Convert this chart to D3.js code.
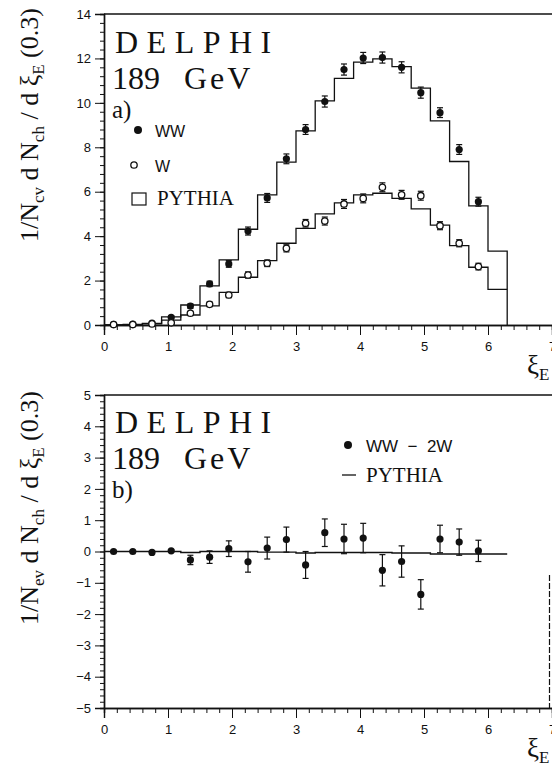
<!DOCTYPE html>
<html>
<head>
<meta charset="utf-8">
<script src="https://cdn.jsdelivr.net/npm/d3@7"></script>
<style>
  body { margin: 0; background: #fff; }
  svg { display: block; }
  .tick text { font-family: "Liberation Sans", Arial, sans-serif; font-size: 13px; fill: #111; }
  .domain, .tick line { stroke: #111; }
  .serif { font-family: "Liberation Serif", "Times New Roman", serif; fill: #111; }
  .sans { font-family: "Liberation Sans", Arial, sans-serif; fill: #111; }
</style>
</head>
<body>
<div id="chart"></div>
<script>
// datos (xi_E, bins de 0.3)
const xiCenters = [0.15, 0.45, 0.75, 1.05, 1.35, 1.65, 1.95, 2.25, 2.55, 2.85, 3.15, 3.45, 3.75, 4.05, 4.35, 4.65, 4.95, 5.25, 5.55, 5.85]
const binEdges = [0, 0.3, 0.6, 0.9, 1.2, 1.5, 1.8, 2.1, 2.4, 2.7, 3.0, 3.3, 3.6, 3.9, 4.2, 4.5, 4.8, 5.1, 5.4, 5.7, 6.0, 6.3]

// panel a)
const wwValues = [0.03, 0.04, 0.08, 0.35, 0.85, 1.85, 2.75, 4.23, 5.72, 7.48, 8.8, 10.06, 11.5, 12.02, 12.04, 11.6, 10.46, 9.56, 7.9, 5.55]
const wwErrors = [0.04, 0.04, 0.05, 0.07, 0.1, 0.12, 0.15, 0.18, 0.2, 0.22, 0.22, 0.25, 0.25, 0.25, 0.25, 0.25, 0.25, 0.22, 0.22, 0.2]
const wValues = [0.02, 0.02, 0.05, 0.1, 0.53, 0.93, 1.35, 2.25, 2.78, 3.45, 4.58, 4.68, 5.45, 5.7, 6.2, 5.86, 5.82, 4.47, 3.68, 2.63]
const wErrors = [0.03, 0.03, 0.04, 0.05, 0.08, 0.1, 0.12, 0.14, 0.15, 0.16, 0.17, 0.18, 0.2, 0.2, 0.2, 0.2, 0.2, 0.18, 0.16, 0.15]
const pythiaWW = [0.0, 0.03, 0.07, 0.37, 0.9, 1.76, 2.93, 4.31, 5.86, 7.33, 8.74, 10.09, 11.1, 11.83, 11.98, 11.63, 10.66, 9.19, 7.36, 5.36, 3.33]
const pythiaW = [0.0, 0.02, 0.05, 0.22, 0.45, 0.86, 1.47, 2.15, 2.9, 3.68, 4.35, 5.0, 5.5, 5.86, 5.93, 5.7, 5.23, 4.5, 3.57, 2.6, 1.6]

// panel b)
const diffValues = [0, 0, -0.03, 0.02, -0.27, -0.18, 0.09, -0.33, 0.11, 0.38, -0.43, 0.6, 0.4, 0.43, -0.6, -0.32, -1.37, 0.4, 0.3, 0.02]
const diffErrors = [0.03, 0.03, 0.03, 0.04, 0.15, 0.2, 0.25, 0.33, 0.35, 0.4, 0.43, 0.44, 0.47, 0.47, 0.5, 0.5, 0.47, 0.44, 0.42, 0.34]
const pythiaDiff = [0, 0, 0, 0, -0.03, 0, 0, 0, -0.02, -0.02, -0.05, -0.03, -0.03, -0.03, -0.03, -0.05, -0.05, -0.08, -0.08, -0.08, -0.08]

// ticks
const xTicks = [0, 1, 2, 3, 4, 5, 6, 7]
const yTicksA = [0, 2, 4, 6, 8, 10, 12, 14]
const yTicksB = [-5, -4, -3, -2, -1, 0, 1, 2, 3, 4, 5]

const width = 552
const height = 765
const ink = "#111"

const svg = d3.select("#chart").append("svg").attr("width", width).attr("height", height)

// escalas
const x = d3.scaleLinear().domain([0, 7]).range([104, 552])
const yA = d3.scaleLinear().domain([0, 14]).range([325, 14])
const yB = d3.scaleLinear().domain([-5, 5]).range([708, 395])

function stepPoints(values, drop) {
    const pts = []
    values.forEach((v, i) => {
        pts.push([binEdges[i], v])
        pts.push([binEdges[i + 1], v])
    })
    if (drop) pts.push([binEdges[binEdges.length - 1], 0])
    return pts
}

function drawAxes(g, y, yTicks, yMinorStep, yMin, yMax, rightFrame) {
    const xMinor = d3.range(0, 7.0001, 0.2)
    const yMinor = d3.range(yMin, yMax + 0.0001, yMinorStep)
    // ejes
    g.append("g").attr("transform", `translate(0, ${y(yMin)})`)
        .call(d3.axisBottom(x).tickValues(xMinor).tickSize(5).tickFormat(""))
    g.append("g").attr("transform", `translate(0, ${y(yMin)})`)
        .call(d3.axisBottom(x).tickValues(xTicks).tickSize(10).tickPadding(7).tickFormat(d3.format("d")))
    g.append("g").attr("transform", `translate(${x(0)}, 0)`)
        .call(d3.axisLeft(y).tickValues(yMinor).tickSize(4).tickFormat(""))
    g.append("g").attr("transform", `translate(${x(0)}, 0)`)
        .call(d3.axisLeft(y).tickValues(yTicks).tickSize(9).tickPadding(4).tickFormat(d3.format("d")))
    g.selectAll(".domain").attr("stroke-width", 1.4)
    // marco arriba (y derecha)
    g.append("line").attr("x1", x(0)).attr("x2", x(7)).attr("y1", y(yMax)).attr("y2", y(yMax))
        .attr("stroke", ink).attr("stroke-width", 1.3)
    if (rightFrame) {
        g.append("line").attr("x1", x(7) - 2.5).attr("x2", x(7) - 2.5).attr("y1", y(yMax) + 180).attr("y2", y(yMin))
            .attr("stroke", ink).attr("stroke-width", 1.2).attr("stroke-dasharray", "6 2")
    }
    // etiqueta eje x
    const t = g.append("text").attr("class", "serif").attr("x", 527).attr("y", y(yMin) + 49)
        .attr("font-size", 27).text("ξ")
    t.append("tspan").attr("font-size", 17).attr("dy", 6).text("E")
}

function yTitle(g, cx, cy, sub) {
    const t = g.append("text").attr("class", "serif")
        .attr("transform", `translate(${cx}, ${cy}) rotate(-90)`)
        .attr("text-anchor", "middle").attr("font-size", 26)
    t.append("tspan").text("1/N")
    t.append("tspan").attr("font-size", 17).attr("dy", 6).text(sub)
    t.append("tspan").attr("dy", -6).text(" d N")
    t.append("tspan").attr("font-size", 17).attr("dy", 6).text("ch")
    t.append("tspan").attr("dy", -6).text(" / d ξ")
    t.append("tspan").attr("font-size", 17).attr("dy", 6).text("E")
    t.append("tspan").attr("dy", -6).text(" (0.3)")
}

function header(g, y0, label) {
    g.append("text").attr("class", "serif").attr("x", 115).attr("y", y0)
        .attr("font-size", 32).attr("letter-spacing", 8.5).text("DELPHI")
    const t = g.append("text").attr("class", "serif").attr("x", 112).attr("y", y0 + 36)
        .attr("font-size", 32).style("white-space", "pre")
    t.append("tspan").text("189   ")
    t.append("tspan").attr("letter-spacing", 3).text("GeV")
    g.append("text").attr("class", "serif").attr("x", 112).attr("y", y0 + 65)
        .attr("font-size", 25).text(label)
}

function errorBars(g, y, vals, errs, cls) {
    const bars = g.selectAll("g." + cls).data(vals).join("g").attr("class", cls)
    bars.append("line")
        .attr("x1", (d, i) => x(xiCenters[i])).attr("x2", (d, i) => x(xiCenters[i]))
        .attr("y1", (d, i) => y(d + errs[i])).attr("y2", (d, i) => y(d - errs[i]))
        .attr("stroke", ink).attr("stroke-width", 1.2)
    bars.append("line")
        .attr("x1", (d, i) => x(xiCenters[i]) - 3).attr("x2", (d, i) => x(xiCenters[i]) + 3)
        .attr("y1", (d, i) => y(d + errs[i])).attr("y2", (d, i) => y(d + errs[i]))
        .attr("stroke", ink).attr("stroke-width", 1.2)
    bars.append("line")
        .attr("x1", (d, i) => x(xiCenters[i]) - 3).attr("x2", (d, i) => x(xiCenters[i]) + 3)
        .attr("y1", (d, i) => y(d - errs[i])).attr("y2", (d, i) => y(d - errs[i]))
        .attr("stroke", ink).attr("stroke-width", 1.2)
}

// ---------- panel a ----------
const gA = svg.append("g").attr("id", "panelA")
drawAxes(gA, yA, yTicksA, 0.4, 0, 14, false)
yTitle(gA, 38, 125, "cv")
header(gA, 53, "a)")

const lineA = d3.line().x(d => x(d[0])).y(d => yA(d[1]))
gA.append("path").attr("d", lineA(stepPoints(pythiaWW, true)))
    .attr("fill", "none").attr("stroke", ink).attr("stroke-width", 1.3)
gA.append("path").attr("d", lineA(stepPoints(pythiaW, false)))
    .attr("fill", "none").attr("stroke", ink).attr("stroke-width", 1.3)

errorBars(gA, yA, wwValues, wwErrors, "errWW")
errorBars(gA, yA, wValues, wErrors, "errW")
gA.selectAll("circle.ww").data(wwValues).join("circle").attr("class", "ww")
    .attr("cx", (d, i) => x(xiCenters[i])).attr("cy", d => yA(d)).attr("r", 3.6).attr("fill", ink)
gA.selectAll("circle.w").data(wValues).join("circle").attr("class", "w")
    .attr("cx", (d, i) => x(xiCenters[i])).attr("cy", d => yA(d)).attr("r", 3.2)
    .attr("fill", "#fff").attr("stroke", ink).attr("stroke-width", 1.3)

// leyenda a
gA.append("circle").attr("cx", 138).attr("cy", 130).attr("r", 4).attr("fill", ink)
gA.append("text").attr("class", "sans").attr("x", 155).attr("y", 137).attr("font-size", 16).text("WW")
gA.append("circle").attr("cx", 134).attr("cy", 165).attr("r", 3.2).attr("fill", "#fff").attr("stroke", ink).attr("stroke-width", 1.3)
gA.append("text").attr("class", "sans").attr("x", 155).attr("y", 172).attr("font-size", 16).text("W")
gA.append("rect").attr("x", 132).attr("y", 193).attr("width", 14).attr("height", 12)
    .attr("fill", "none").attr("stroke", ink).attr("stroke-width", 1.2)
gA.append("text").attr("class", "serif").attr("x", 157).attr("y", 205).attr("font-size", 21).text("PYTHIA")

// ---------- panel b ----------
const gB = svg.append("g").attr("id", "panelB")
drawAxes(gB, yB, yTicksB, 0.2, -5, 5, true)
yTitle(gB, 38, 508, "ev")
header(gB, 433, "b)")

const lineB = d3.line().x(d => x(d[0])).y(d => yB(d[1]))
gB.append("path").attr("d", lineB(stepPoints(pythiaDiff, false)))
    .attr("fill", "none").attr("stroke", ink).attr("stroke-width", 1.4)

errorBars(gB, yB, diffValues, diffErrors, "errD")
gB.selectAll("circle.d").data(diffValues).join("circle").attr("class", "d")
    .attr("cx", (d, i) => x(xiCenters[i])).attr("cy", d => yB(d)).attr("r", 3.6).attr("fill", ink)

// leyenda b
gB.append("circle").attr("cx", 348).attr("cy", 445).attr("r", 4).attr("fill", ink)
gB.append("text").attr("class", "sans").attr("x", 366).attr("y", 452).attr("font-size", 17)
    .style("white-space", "pre").text("WW  −  2W")
gB.append("line").attr("x1", 342).attr("x2", 356).attr("y1", 475).attr("y2", 475).attr("stroke", ink).attr("stroke-width", 1.3)
gB.append("text").attr("class", "serif").attr("x", 366).attr("y", 482).attr("font-size", 21).text("PYTHIA")
</script>
</body>
</html>
